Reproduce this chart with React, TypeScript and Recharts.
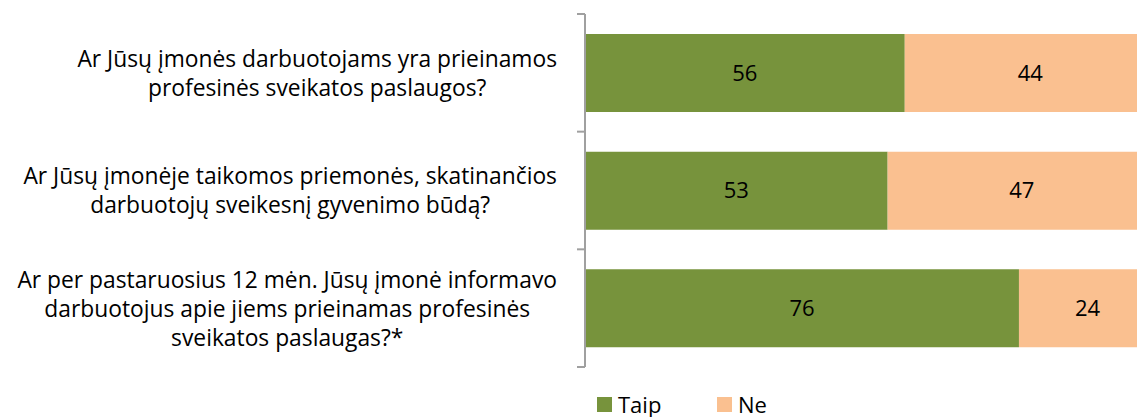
import { Bar, BarChart, LabelList, Legend, XAxis, YAxis } from "recharts";

const questions = [
  "Ar Jūsų įmonės darbuotojams yra prieinamos\nprofesinės sveikatos paslaugos?",
  "Ar Jūsų įmonėje taikomos priemonės, skatinančios\ndarbuotojų sveikesnį gyvenimo būdą?",
  "Ar per pastaruosius 12 mėn. Jūsų įmonė informavo\ndarbuotojus apie jiems prieinamas profesinės\nsveikatos paslaugas?*",
];
const taip = [56, 53, 76];
const ne = [44, 47, 24];

const data = questions.map((q, i) => ({ q, taip: taip[i], ne: ne[i] }));

const FONT = "'Open Sans', 'Noto Sans', sans-serif";
const W = 1148;
const H = 409;
const M = { top: 6, right: 0, bottom: 50, left: 0 };
const AXIS_W = 577;
const BAND = (H - M.top - M.bottom) / questions.length;
const GREEN = "#77933C";
const PEACH = "#FAC090";
const AXIS_GREY = "#A0A0A0";

function QuestionTick(props: any) {
  const { y, payload, index } = props;
  const lines = String(payload.value).split("\n");
  const top = y - BAND / 2;
  return (
    <g>
      <line x1={AXIS_W - 8} x2={AXIS_W} y1={top} y2={top} stroke={AXIS_GREY} strokeWidth={2} />
      {index === questions.length - 1 && (
        <line x1={AXIS_W - 8} x2={AXIS_W} y1={top + BAND} y2={top + BAND} stroke={AXIS_GREY} strokeWidth={2} />
      )}
      <foreignObject x={0} y={top} width={AXIS_W - 28} height={BAND}>
        <div
          style={{
            height: "100%",
            display: "flex",
            justifyContent: "flex-end",
            alignItems: "center",
          }}
        >
          <div style={{ textAlign: "center", fontFamily: FONT, fontSize: 22.8, lineHeight: "29px", color: "#000", whiteSpace: "nowrap" }}>
            {lines.map((l, k) => (
              <div key={k}>{l}</div>
            ))}
          </div>
        </div>
      </foreignObject>
    </g>
  );
}

function LegendBox() {
  const items = [
    { label: "Taip", color: GREEN },
    { label: "Ne", color: PEACH },
  ];
  return (
    <div style={{ display: "flex", fontFamily: FONT, fontSize: 22, lineHeight: "22px" }}>
      {items.map((it) => (
        <div key={it.label} style={{ display: "flex", alignItems: "center", width: 120 }}>
          <span style={{ width: 15, height: 15, background: it.color, marginRight: 6 }} />
          <span>{it.label}</span>
        </div>
      ))}
    </div>
  );
}

export default function App() {
  return (
    <div style={{ width: 1137, overflow: "hidden" }}>
      <BarChart width={W} height={H} data={data} layout="vertical" margin={M} barCategoryGap="17%">
        <XAxis type="number" domain={[0, 100]} hide />
        <YAxis
          type="category"
          dataKey="q"
          width={AXIS_W}
          tickLine={false}
          axisLine={{ stroke: AXIS_GREY, strokeWidth: 2 }}
          tick={<QuestionTick />}
        />
        <Legend
          verticalAlign="middle"
          align="center"
          wrapperStyle={{ top: 385, left: 589, width: "auto" }}
          content={<LegendBox />}
        />
        <Bar dataKey="taip" name="Taip" stackId="a" fill={GREEN} isAnimationActive={false}>
          <LabelList dataKey="taip" position="center" fill="#000" style={{ fontFamily: FONT, fontSize: 22 }} />
        </Bar>
        <Bar dataKey="ne" name="Ne" stackId="a" fill={PEACH} isAnimationActive={false}>
          <LabelList dataKey="ne" position="center" fill="#000" style={{ fontFamily: FONT, fontSize: 22 }} />
        </Bar>
      </BarChart>
    </div>
  );
}
